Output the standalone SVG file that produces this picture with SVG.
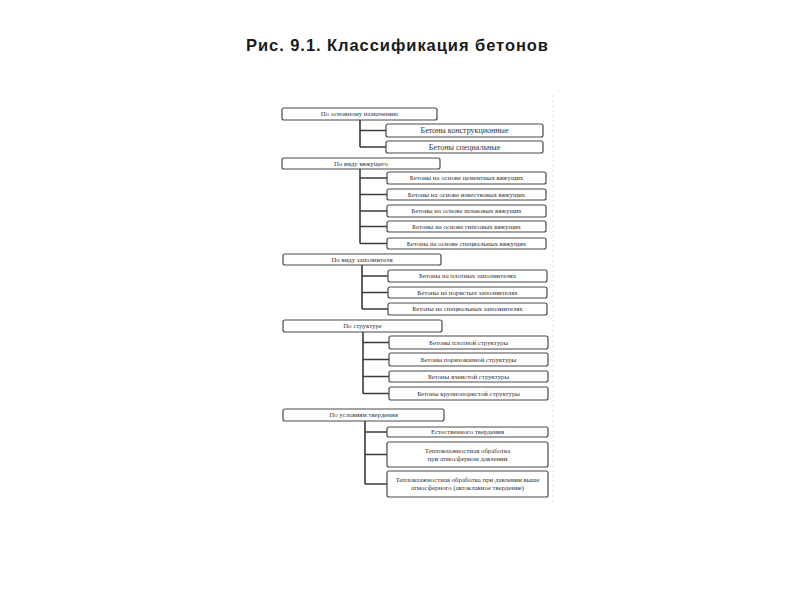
<svg xmlns="http://www.w3.org/2000/svg" width="800" height="600" viewBox="0 0 800 600">
<style>
.box{fill:#ffffff;stroke:#4a4a4a;stroke-width:1.2}
.t{font-family:"Liberation Serif","DejaVu Serif",serif;font-size:6.8px;fill:#333333;text-anchor:middle}
.tb{font-family:"Liberation Serif","DejaVu Serif",serif;font-size:8px;fill:#333333;text-anchor:middle}
.title{font-family:"Liberation Sans",Arial,sans-serif;font-size:16.5px;font-weight:bold;fill:#1a1a1a}
.ln{stroke:#3a3a3a;stroke-width:1.6;fill:none}
</style>
<rect width="800" height="600" fill="#ffffff"/>
<text class="title" x="246" y="51" textLength="302" lengthAdjust="spacing">Рис. 9.1. Классификация бетонов</text>
<line x1="553" y1="95" x2="553" y2="505" stroke="#dddddd" stroke-width="1" stroke-dasharray="2,3"/>
<g id="connectors">
<path class="ln" d="M360 120V147M360 130.5H386M360 147H386"/>
<path class="ln" d="M360 169V243.5M360 178H387M360 194.5H387M360 211H387M360 226.5H387M360 243.5H387"/>
<path class="ln" d="M362 265V309M362 276H388M362 292.5H388M362 309H388"/>
<path class="ln" d="M363 332V393.5M363 342.5H389M363 359.5H389M363 376.5H389M363 393.5H389"/>
<path class="ln" d="M365 421V484M365 432H387M365 454.5H387M365 484H387"/>
</g>
<g id="n1"><rect class="box" x="282" y="108" width="155" height="12" rx="2"/><text class="t" x="359.5" y="116.3">По основному назначению</text></g>
<g id="n1a"><rect class="box" x="386" y="124" width="157" height="13" rx="2"/><text class="tb" x="464.5" y="133.3">Бетоны конструкционные</text></g>
<g id="n1b"><rect class="box" x="386" y="141" width="157" height="12" rx="2"/><text class="tb" x="464.5" y="149.8">Бетоны специальные</text></g>
<g id="n2"><rect class="box" x="282" y="158" width="158" height="11" rx="2"/><text class="t" x="361" y="165.8">По виду вяжущего</text></g>
<g id="n2a"><rect class="box" x="387" y="172" width="159" height="12" rx="2"/><text class="t" x="466.5" y="180.3">Бетоны на основе цементных вяжущих</text></g>
<g id="n2b"><rect class="box" x="387" y="189" width="159" height="11" rx="2"/><text class="t" x="466.5" y="196.8">Бетоны на основе известковых вяжущих</text></g>
<g id="n2c"><rect class="box" x="387" y="205" width="159" height="12" rx="2"/><text class="t" x="466.5" y="213.3">Бетоны на основе шлаковых вяжущих</text></g>
<g id="n2d"><rect class="box" x="387" y="221" width="159" height="11" rx="2"/><text class="t" x="466.5" y="228.8">Бетоны на основе гипсовых вяжущих</text></g>
<g id="n2e"><rect class="box" x="387" y="238" width="159" height="11" rx="2"/><text class="t" x="466.5" y="245.8">Бетоны на основе специальных вяжущих</text></g>
<g id="n3"><rect class="box" x="283" y="254" width="158" height="11" rx="2"/><text class="t" x="362" y="261.8">По виду заполнителя</text></g>
<g id="n3a"><rect class="box" x="388" y="270" width="159" height="12" rx="2"/><text class="t" x="467.5" y="278.3">Бетоны на  плотных заполнителях</text></g>
<g id="n3b"><rect class="box" x="388" y="287" width="159" height="11" rx="2"/><text class="t" x="467.5" y="294.8">Бетоны на пористых заполнителях</text></g>
<g id="n3c"><rect class="box" x="388" y="303" width="159" height="12" rx="2"/><text class="t" x="467.5" y="311.3">Бетоны на специальных заполнителях</text></g>
<g id="n4"><rect class="box" x="283" y="320" width="159" height="12" rx="2"/><text class="t" x="362.5" y="328.3">По структуре</text></g>
<g id="n4a"><rect class="box" x="389" y="336" width="159" height="13" rx="2"/><text class="t" x="468.5" y="344.8">Бетоны плотной структуры</text></g>
<g id="n4b"><rect class="box" x="389" y="353" width="159" height="13" rx="2"/><text class="t" x="468.5" y="361.8">Бетоны поризованной структуры</text></g>
<g id="n4c"><rect class="box" x="389" y="371" width="159" height="11" rx="2"/><text class="t" x="468.5" y="378.8">Бетоны ячеистой структуры</text></g>
<g id="n4d"><rect class="box" x="389" y="387" width="159" height="13" rx="2"/><text class="t" x="468.5" y="395.8">Бетоны крупнопористой структуры</text></g>
<g id="n5"><rect class="box" x="283" y="409" width="161" height="12" rx="2"/><text class="t" x="363.5" y="417.3">По условиям твердения</text></g>
<g id="n5a"><rect class="box" x="387" y="427" width="161" height="10" rx="2"/><text class="t" x="467.5" y="434.3">Естественного твердения</text></g>
<g id="n5b"><rect class="box" x="387" y="442" width="161" height="25" rx="2"/><text class="t" x="467.5" y="452.5">Тепловлажностная обработка</text><text class="t" x="467.5" y="461">при атмосферном давлении</text></g>
<g id="n5c"><rect class="box" x="387" y="471" width="161" height="26" rx="2"/><text class="t" x="467.5" y="481.5">Тепловлажностная обработка при давлении выше</text><text class="t" x="467.5" y="490">атмосферного (автоклавное твердение)</text></g>
</svg>
